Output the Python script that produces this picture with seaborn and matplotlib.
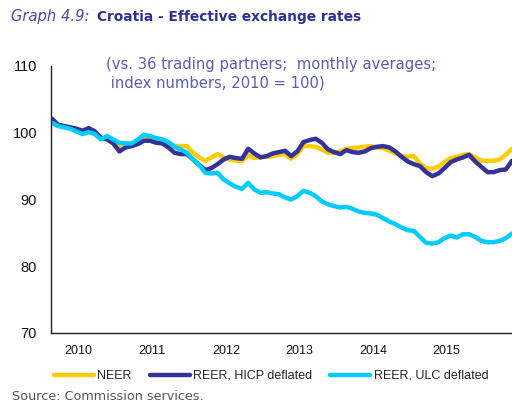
import numpy as np
import pandas as pd
import matplotlib
matplotlib.use("Agg")
import matplotlib.pyplot as plt
import seaborn as sns
from matplotlib.lines import Line2D

# Monthly data, Jan 2010 .. Apr 2016
neer = [101.8, 101.1, 101.0, 100.8, 100.5, 100.1, 100.4, 100.0, 99.2, 99.3, 98.6, 97.9,
        98.1, 98.3, 98.7, 99.3, 99.1, 98.8, 98.6, 98.3, 98.0, 98.0, 98.0, 97.0,
        96.3, 95.8, 96.3, 96.8, 96.3, 96.0, 95.8, 95.8, 96.6, 96.2, 96.4, 96.4,
        96.5, 96.7, 96.8, 96.1, 96.8, 98.0, 98.0, 97.9, 97.5, 97.0, 97.0, 97.2,
        97.6, 97.7, 97.8, 97.9, 98.0, 97.8, 97.7, 97.3, 96.9, 96.5, 96.4, 96.5,
        95.4, 94.7, 94.6, 94.9, 95.6, 96.2, 96.4, 96.7, 96.8, 96.3, 95.8, 95.8,
        95.8, 96.0, 96.7, 97.6]
reer_hicp = [102.1, 101.2, 101.0, 100.8, 100.6, 100.3, 100.7, 100.2, 99.2, 99.0, 98.4, 97.2,
             97.8, 98.0, 98.3, 98.8, 98.8, 98.5, 98.4, 97.8, 97.0, 96.8, 96.8, 96.0,
             95.2, 94.4, 94.7, 95.3, 96.0, 96.4, 96.2, 96.1, 97.6, 96.9, 96.3, 96.5,
             96.9, 97.1, 97.3, 96.5, 97.2, 98.6, 98.9, 99.1, 98.5, 97.5, 97.1, 96.8,
             97.4, 97.1, 97.0, 97.2, 97.7, 97.9, 98.0, 97.8, 97.2, 96.4, 95.7, 95.3,
             95.0, 94.1, 93.5, 93.9, 94.7, 95.6, 96.0, 96.3, 96.7, 95.7, 94.9, 94.1,
             94.1, 94.4, 94.5, 95.8]
reer_ulc = [101.5, 101.0, 100.8, 100.6, 100.2, 99.8, 100.1, 99.8, 99.0, 99.5, 99.0, 98.5,
            98.4, 98.4, 99.0, 99.7, 99.5, 99.2, 99.0, 98.6, 97.9, 97.5, 97.0, 96.0,
            95.2, 94.0, 93.9, 94.0, 93.0, 92.4, 91.9, 91.6, 92.5, 91.5, 91.0, 91.1,
            90.9, 90.8, 90.3, 90.0, 90.5, 91.3, 91.0, 90.5, 89.7, 89.3, 89.0, 88.8,
            88.9, 88.6, 88.2, 88.0, 87.9, 87.7, 87.2, 86.7, 86.3, 85.8, 85.4, 85.3,
            84.4, 83.5, 83.4, 83.6, 84.2, 84.6, 84.3, 84.8, 84.8, 84.4, 83.8, 83.6,
            83.6, 83.8, 84.2, 84.9]
years = ["2010", "2011", "2012", "2013", "2014", "2015"]
series_names = ["NEER", "REER, HICP deflated", "REER, ULC deflated"]
colors = ["#FFCC00", "#333399", "#00CCFF"]

n = len(neer)
df = pd.DataFrame({
    "month": np.tile(np.arange(n), 3),
    "value": neer + reer_hicp + reer_ulc,
    "series": np.repeat(series_names, n),
})

sns.set_theme(style="white")
plt.rcParams["font.family"] = ["Liberation Sans", "DejaVu Sans"]

fig = plt.figure(figsize=(5.12, 4.04), dpi=100)
ax = fig.add_axes([51 / 512, (404 - 333) / 404, 461 / 512, 267 / 404])

sns.lineplot(data=df, x="month", y="value", hue="series", hue_order=series_names,
             palette=colors, linewidth=3.2, ax=ax, legend=False)

ax.set_xlim(-0.15, n - 1)
ax.set_ylim(70, 110)
ax.set_yticks([70, 80, 90, 100, 110])
ax.set_xticks([12 * k - 0.15 for k in range(7)])
ax.set_xticklabels([])
ax.set_xticks([12 * k + 4.35 for k in range(6)], minor=True)
ax.set_xticklabels(years, minor=True)
ax.tick_params(axis="x", which="major", direction="inout", length=8, width=1, color="#222222")
ax.tick_params(axis="x", which="minor", length=0, labelsize=9, pad=9, labelcolor="#111111")
ax.tick_params(axis="y", direction="out", length=4, width=1, color="#222222",
               labelsize=10.5, pad=6, labelcolor="#111111")
ax.set_xlabel("")
ax.set_ylabel("")
for s in ["top", "right"]:
    ax.spines[s].set_visible(False)
for s in ["left", "bottom"]:
    ax.spines[s].set_color("#222222")
    ax.spines[s].set_linewidth(1)

# legend
handles = [Line2D([0], [0], color=c, lw=3.2) for c in colors]
fig.legend(handles, series_names, loc="center", bbox_to_anchor=(271 / 512, 1 - 376 / 404),
           ncol=3, frameon=False, fontsize=9, handlelength=3.2, handletextpad=0.3,
           columnspacing=1.4)

# title
fig.text(11 / 512, 1 - 17 / 404, "Graph 4.9:", fontsize=10.6, style="italic",
         color="#4a4aa8", va="center", ha="left", family=["DejaVu Sans"])
fig.text(97 / 512, 1 - 17 / 404, "Croatia - Effective exchange rates", fontsize=9.9,
         fontweight="bold", color="#2e3192", va="center", ha="left",
         family=["DejaVu Sans"])
fig.text(106 / 512, 1 - 73.5 / 404,
         "(vs. 36 trading partners;  monthly averages;\n index numbers, 2010 = 100)",
         fontsize=10.6, color="#5b5bb0", va="center", ha="left", linespacing=1.25,
         family=["DejaVu Sans"])
fig.text(12 / 512, 1 - 397 / 404, "Source: Commission services.", fontsize=9.2,
         color="#555555", va="center", ha="left", family=["DejaVu Sans"])

fig.savefig("out.png", dpi=100)
